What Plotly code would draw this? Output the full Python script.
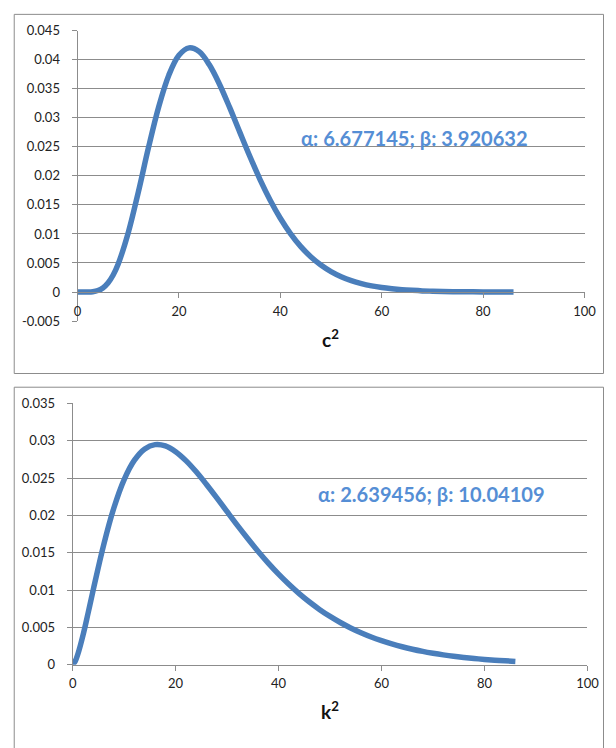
import plotly.graph_objects as go

# ---- data ----
c2_x = [0, 1, 2, 3, 4, 5, 6, 7, 8, 10, 12, 14, 16, 18, 20, 22, 24, 26, 28, 30, 32, 34, 36, 38,
        40, 42, 44, 46, 48, 50, 52, 54, 56, 58, 60, 62, 64, 66, 68, 70, 72, 74, 76, 78, 80, 82, 84, 86]
c2_y = [0.0, 0.0000003, 0.0000084, 0.0000654, 0.000259, 0.000714, 0.00156, 0.00289, 0.00479,
        0.01021, 0.01725, 0.02488, 0.03185, 0.03732, 0.04074, 0.04202, 0.04137, 0.03911, 0.03577,
        0.03177, 0.02752, 0.02332, 0.01936, 0.01581, 0.01270, 0.01006, 0.00786, 0.00608, 0.00465,
        0.00352, 0.00264, 0.00196, 0.00145, 0.00106, 0.00077, 0.00056, 0.00040, 0.00029, 0.00020,
        0.000145, 0.000102, 0.0000714, 0.0000499, 0.0000347, 0.0000241, 0.000017, 0.000011, 0.0000078]

k2_x = [0, 0.5, 1, 2, 3, 4, 6, 8, 10, 12, 14, 16, 18, 20, 22, 24, 26, 28, 30, 32, 34, 36, 38,
        40, 42, 44, 46, 48, 50, 52, 54, 56, 58, 60, 62, 64, 66, 68, 70, 72, 74, 76, 78, 80, 82, 84, 86]
k2_y = [0.0, 0.00047, 0.001394, 0.00393, 0.00692, 0.01004, 0.01599, 0.02099, 0.02480, 0.02740,
        0.02891, 0.02948, 0.02931, 0.02854, 0.02734, 0.02584, 0.02414, 0.02234, 0.02049, 0.01866,
        0.01690, 0.01520, 0.01361, 0.01213, 0.01077, 0.00952, 0.00839, 0.00737, 0.00646, 0.00565,
        0.00492, 0.00428, 0.00371, 0.00322, 0.00278, 0.00240, 0.00207, 0.00178, 0.00153, 0.00131,
        0.00112, 0.000963, 0.000824, 0.000704, 0.000600, 0.000512, 0.000436]

top_label = "α: 6.677145; β: 3.920632"
bot_label = "α: 2.639456; β: 10.04109"
top_title = "c<sup>2</sup>"
bot_title = "k<sup>2</sup>"

top_yticks = [-0.005, 0, 0.005, 0.01, 0.015, 0.02, 0.025, 0.03, 0.035, 0.04, 0.045]
bot_yticks = [0, 0.005, 0.01, 0.015, 0.02, 0.025, 0.03, 0.035]
x_ticks = [0, 20, 40, 60, 80, 100]

# ---- layout geometry (pixels) ----
W, H = 616, 748
def px(x):
    return x / W
def py(y):
    return 1 - y / H

LINE = "#4A7EBB"
GRID = "#8C8C8C"
FONT = "Lato"

fig = go.Figure()
fig.add_trace(go.Scatter(x=c2_x, y=c2_y, mode="lines", line=dict(color=LINE, width=5.5, shape="spline"),
                         xaxis="x", yaxis="y", showlegend=False))
fig.add_trace(go.Scatter(x=k2_x, y=k2_y, mode="lines", line=dict(color=LINE, width=5.5, shape="spline"),
                         xaxis="x2", yaxis="y2", showlegend=False))

tickfont = dict(family=FONT, size=13, color="#222222")

fig.update_layout(
    width=W, height=H, margin=dict(l=0, r=0, t=0, b=0),
    paper_bgcolor="white", plot_bgcolor="white",
    xaxis=dict(domain=[px(75.5), px(596)], range=[0, 100], tickvals=x_ticks,
               anchor="free", position=py(290), showgrid=False, zeroline=False,
               showline=True, linecolor=GRID, linewidth=1, ticks="outside", ticklen=5,
               tickcolor=GRID, tickfont=tickfont, ticklabelstandoff=3),
    yaxis=dict(domain=[py(320), py(23)], range=[-0.00501, 0.04501], tickvals=top_yticks,
               ticktext=[f"{v:g}" for v in top_yticks], anchor="x", showgrid=True, gridcolor=GRID,
               gridwidth=1, zeroline=False, showline=True, linecolor=GRID, linewidth=1,
               ticks="outside", ticklen=5, tickcolor=GRID, tickfont=tickfont, ticklabelstandoff=9),
    xaxis2=dict(domain=[px(70.5), px(599)], range=[0, 100], tickvals=x_ticks,
                anchor="y2", showgrid=False, zeroline=False,
                showline=True, linecolor=GRID, linewidth=1, ticks="outside", ticklen=5,
                tickcolor=GRID, tickfont=tickfont, ticklabelstandoff=2),
    yaxis2=dict(domain=[py(671), py(404)], range=[0, 0.03501], tickvals=bot_yticks,
                ticktext=[f"{v:g}" for v in bot_yticks], anchor="x2", showgrid=True, gridcolor=GRID,
                gridwidth=1, zeroline=False, showline=True, linecolor=GRID, linewidth=1,
                ticks="outside", ticklen=5, tickcolor=GRID, tickfont=tickfont, ticklabelstandoff=9),
    shapes=[
        dict(type="rect", xref="paper", yref="paper", x0=px(10.5), x1=px(615.5), y0=py(373.5), y1=py(6.5),
             line=dict(color=GRID, width=1), fillcolor="rgba(0,0,0,0)", layer="below"),
        dict(type="rect", xref="paper", yref="paper", x0=px(10.5), x1=px(615.5), y0=py(760), y1=py(387.5),
             line=dict(color=GRID, width=1), fillcolor="rgba(0,0,0,0)", layer="below"),
    ],
    annotations=[
        dict(text=f"<b>{top_label}</b>", xref="paper", yref="paper", x=px(303), y=py(133),
             xanchor="left", yanchor="middle", showarrow=False,
             font=dict(family=FONT, size=20.1, color="#558ED5")),
        dict(text=f"<b>{bot_label}</b>", xref="paper", yref="paper", x=px(320), y=py(497),
             xanchor="left", yanchor="middle", showarrow=False,
             font=dict(family=FONT, size=20.1, color="#558ED5")),
        dict(text=f"<b>{top_title}</b>", xref="paper", yref="paper", x=px(335), y=py(338),
             xanchor="center", yanchor="middle", showarrow=False,
             font=dict(family=FONT, size=19, color="#111111")),
        dict(text=f"<b>{bot_title}</b>", xref="paper", yref="paper", x=px(335), y=py(718),
             xanchor="center", yanchor="middle", showarrow=False,
             font=dict(family=FONT, size=19, color="#111111")),
    ],
)

fig.write_html("out.html")
